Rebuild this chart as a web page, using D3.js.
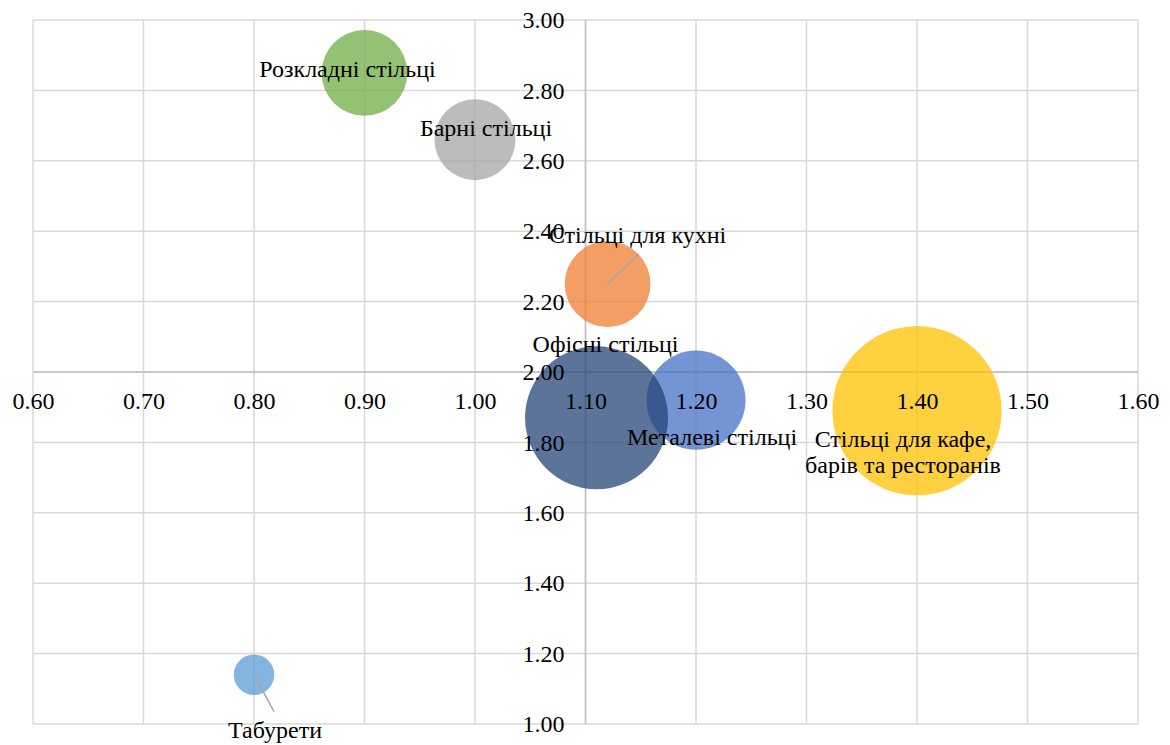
<!DOCTYPE html>
<html>
<head>
<meta charset="utf-8">
<script src="https://cdn.jsdelivr.net/npm/d3@7"></script>
<style>
  html, body { margin: 0; padding: 0; background: #fff; }
  svg { display: block; }
  svg text { font-family: "Liberation Serif", "Times New Roman", "DejaVu Serif", serif !important; fill: #000; }
</style>
</head>
<body>
<svg id="chart" width="1170" height="745"></svg>
<script>
// ---- data ----
const categories = ["Стільці для кафе, барів та ресторанів", "Офісні стільці", "Металеві стільці",
  "Стільці для кухні", "Розкладні стільці", "Барні стільці", "Табурети"];
const xValues = [1.40, 1.11, 1.20, 1.12, 0.90, 1.00, 0.80];
const yValues = [1.89, 1.87, 1.92, 2.25, 2.85, 2.66, 1.14];
const sizeValues = [35, 25, 12, 9, 9, 8, 2];
const xTicks = [0.6, 0.7, 0.8, 0.9, 1.0, 1.1, 1.2, 1.3, 1.4, 1.5, 1.6];
const yTicks = [1.0, 1.2, 1.4, 1.6, 1.8, 2.0, 2.2, 2.4, 2.6, 2.8, 3.0];

// ---- styles / layout ----
const FONT = '"Liberation Serif", "Times New Roman", "DejaVu Serif", serif';
const colors = ["#FFC000", "#264478", "#4472C4", "#ED7D31", "#70AD47", "#A5A5A5", "#5B9BD5"];
const drawOrder = [0, 2, 1, 3, 4, 5, 6];
const labelLayout = [
  { dx: -14, dy: 36, lines: ["Стільці для кафе,", "барів та ресторанів"] },
  { dx: 9, dy: -66, lines: ["Офісні стільці"] },
  { dx: 16, dy: 45, lines: ["Металеві стільці"] },
  { dx: 30, dy: -41, lines: ["Стільці для кухні"], leader: [31, -30] },
  { dx: -17, dy: 4, lines: ["Розкладні стільці"] },
  { dx: 11, dy: -4, lines: ["Барні стільці"] },
  { dx: 21, dy: 63, lines: ["Табурети"], leader: [20, 37] }
];

const svg = d3.select("#chart");
const pLeft = 33, pRight = 1138, pTop = 20, pBottom = 724;

const x = d3.scaleLinear().domain([0.6, 1.6]).range([pLeft, pRight]);
const y = d3.scaleLinear().domain([1.0, 3.0]).range([pBottom, pTop]);
const r = d3.scaleSqrt().domain([0, 35]).range([0, 84.6]);

const gridColor = "#d9d9d9";

const grid = svg.append("g");
grid.selectAll("line.v").data(xTicks).join("line").attr("class", "v")
  .attr("x1", d => x(d)).attr("x2", d => x(d))
  .attr("y1", pTop).attr("y2", pBottom)
  .attr("stroke", gridColor).attr("stroke-width", 1.5);
grid.selectAll("line.h").data(yTicks).join("line").attr("class", "h")
  .attr("y1", d => y(d)).attr("y2", d => y(d))
  .attr("x1", pLeft).attr("x2", pRight)
  .attr("stroke", gridColor).attr("stroke-width", 1.5);

// axis lines (under the bubbles)
const axisLines = svg.append("g");
axisLines.append("line").attr("x1", pLeft).attr("x2", pRight)
  .attr("y1", y(2.0)).attr("y2", y(2.0)).attr("stroke", "#bfbfbf").attr("stroke-width", 1.5);
axisLines.append("line").attr("x1", x(1.1)).attr("x2", x(1.1))
  .attr("y1", pTop).attr("y2", pBottom).attr("stroke", "#bfbfbf").attr("stroke-width", 1.5);

// bubbles
svg.append("g").selectAll("circle").data(drawOrder).join("circle")
  .attr("cx", i => x(xValues[i]))
  .attr("cy", i => y(yValues[i]))
  .attr("r", i => r(sizeValues[i]))
  .attr("fill", i => colors[i])
  .attr("fill-opacity", 0.75);

// tick labels (on top)
const fmt = d3.format(".2f");
const xAxis = d3.axisBottom(x).tickValues(xTicks).tickFormat(fmt).tickSize(0).tickPadding(20);
const yAxis = d3.axisLeft(y).tickValues(yTicks).tickFormat(fmt).tickSize(0).tickPadding(21);
const gx = svg.append("g").attr("transform", `translate(0,${y(2.0)})`).call(xAxis);
const gy = svg.append("g").attr("transform", `translate(${x(1.1)},0)`).call(yAxis);
[gx, gy].forEach(g => {
  g.attr("font-family", FONT).attr("font-size", 24);
  g.select(".domain").remove();
  g.selectAll("text").attr("font-family", FONT).attr("font-size", 24).attr("fill", "#000");
});

// leader lines
svg.append("g").selectAll("line").data(drawOrder.filter(i => labelLayout[i].leader)).join("line")
  .attr("x1", i => x(xValues[i])).attr("y1", i => y(yValues[i]))
  .attr("x2", i => x(xValues[i]) + labelLayout[i].leader[0])
  .attr("y2", i => y(yValues[i]) + labelLayout[i].leader[1])
  .attr("stroke", "#a6a6a6").attr("stroke-width", 1.5);

// data labels
const lg = svg.append("g").attr("font-family", FONT).attr("font-size", 24);
drawOrder.forEach(i => {
  const L = labelLayout[i];
  const t = lg.append("text")
    .attr("x", x(xValues[i]) + L.dx)
    .attr("y", y(yValues[i]) + L.dy)
    .attr("text-anchor", "middle");
  L.lines.forEach((ln, k) => {
    t.append("tspan").attr("x", x(xValues[i]) + L.dx).attr("dy", k === 0 ? 0 : 26).text(ln);
  });
});
</script>
</body>
</html>
